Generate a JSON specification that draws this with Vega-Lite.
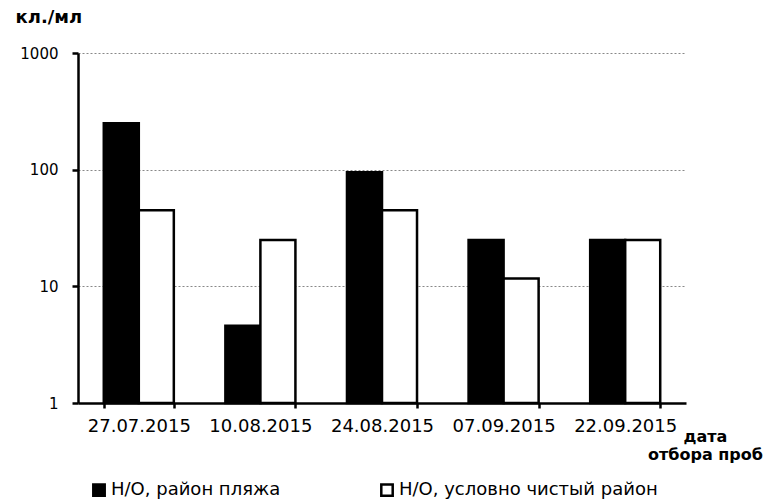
{
  "$schema": "https://vega.github.io/schema/vega-lite/v6.json",
  "width": 608,
  "height": 350,
  "autosize": {"type": "none"},
  "padding": {"left": 78, "top": 53, "right": 88, "bottom": 97},
  "background": "white",
  "config": {
    "view": {"stroke": null},
    "font": "DejaVu Sans"
  },
  "data": {
    "values": [
      {"date": "27.07.2015", "series": "Н/О, район пляжа", "value": 250},
      {"date": "27.07.2015", "series": "Н/О, условно чистый район", "value": 45},
      {"date": "10.08.2015", "series": "Н/О, район пляжа", "value": 4.6},
      {"date": "10.08.2015", "series": "Н/О, условно чистый район", "value": 25},
      {"date": "24.08.2015", "series": "Н/О, район пляжа", "value": 95},
      {"date": "24.08.2015", "series": "Н/О, условно чистый район", "value": 45},
      {"date": "07.09.2015", "series": "Н/О, район пляжа", "value": 25},
      {"date": "07.09.2015", "series": "Н/О, условно чистый район", "value": 11.7},
      {"date": "22.09.2015", "series": "Н/О, район пляжа", "value": 25},
      {"date": "22.09.2015", "series": "Н/О, условно чистый район", "value": 25}
    ]
  },
  "mark": {"type": "bar", "stroke": "black", "strokeWidth": 2.5},
  "encoding": {
    "x": {
      "field": "date",
      "type": "nominal",
      "sort": null,
      "scale": {"paddingInner": 0.424, "paddingOuter": 0.212},
      "axis": {
        "title": ["дата", "отбора проб"],
        "titleFont": "DejaVu Sans",
        "titleFontSize": 16,
        "titleFontWeight": "bold",
        "titleColor": "black",
        "titleX": 627,
        "titleY": 25,
        "titleAlign": "center",
        "titleAnchor": null,
        "titleBaseline": "top",
        "titleLineHeight": 18,
        "titleLimit": 300,
        "labelAngle": 0,
        "labelFont": "DejaVu Sans",
        "labelFontSize": 18,
        "labelColor": "black",
        "labelPadding": 9,
        "tickBand": "extent",
        "tickSize": 5,
        "tickWidth": 2.5,
        "tickColor": "black",
        "domainColor": "black",
        "domainWidth": 2.5,
        "grid": false
      }
    },
    "xOffset": {
      "field": "series",
      "type": "nominal",
      "sort": null,
      "scale": {"paddingInner": 0, "paddingOuter": 0}
    },
    "y": {
      "field": "value",
      "type": "quantitative",
      "stack": null,
      "scale": {"type": "log", "domain": [1, 1000], "nice": false},
      "axis": {
        "values": [1, 10, 100, 1000],
        "format": "d",
        "title": "кл./мл",
        "titleAngle": 0,
        "titleFont": "DejaVu Sans",
        "titleFontSize": 18,
        "titleFontWeight": "bold",
        "titleColor": "black",
        "titleAlign": "left",
        "titleBaseline": "alphabetic",
        "titleX": -63,
        "titleY": -31,
        "labelFont": "DejaVu Sans",
        "labelFontSize": 15,
        "labelColor": "black",
        "labelPadding": 14,
        "tickSize": 6,
        "tickWidth": 2.5,
        "tickColor": "black",
        "domainColor": "black",
        "domainWidth": 2.5,
        "grid": true,
        "gridColor": "#888888",
        "gridDash": [2, 2],
        "gridWidth": 1
      }
    },
    "y2": {"datum": 1},
    "fill": {
      "field": "series",
      "type": "nominal",
      "sort": null,
      "scale": {"range": ["black", "white"]},
      "legend": {
        "title": null,
        "orient": "none",
        "direction": "horizontal",
        "legendX": 12,
        "legendY": 428,
        "symbolType": "square",
        "symbolSize": 130,
        "symbolStrokeColor": "black",
        "symbolStrokeWidth": 2.5,
        "labelFont": "DejaVu Sans",
        "labelFontSize": 18,
        "labelColor": "black",
        "labelOffset": 3,
        "labelLimit": 400,
        "columnPadding": 95
      }
    }
  }
}
